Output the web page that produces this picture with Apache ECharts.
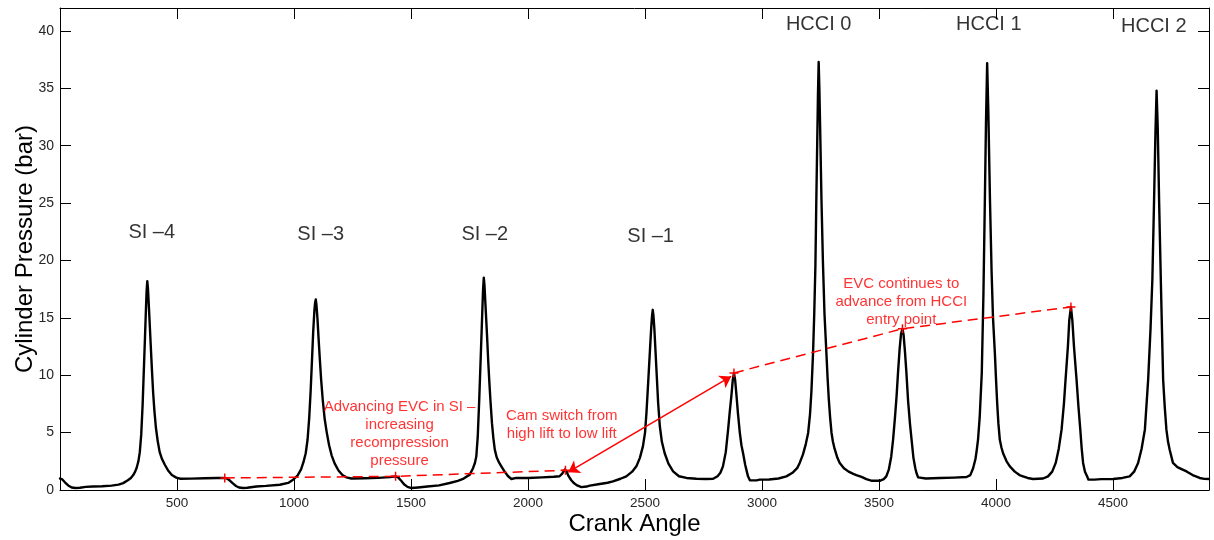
<!DOCTYPE html>
<html>
<head>
<meta charset="utf-8">
<title>Cylinder Pressure vs Crank Angle</title>
<script src="https://cdn.jsdelivr.net/npm/echarts@6/dist/echarts.min.js"></script>
<style>
  html, body { margin: 0; padding: 0; background: #fff; }
  #chart { width: 1214px; height: 540px; }
</style>
</head>
<body>
<div id="chart"></div>
<script>
// Cylinder pressure trace, [crank angle, pressure in bar], one array per engine cycle
const cycleSI4 = [
  [0,1.0],[10,0.92],[22,0.65],[35,0.4],[50,0.22],[65,0.17],[85,0.2],[110,0.27],[140,0.31],[180,0.33],
  [220,0.38],[250,0.47],[270,0.6],[290,0.85],[303,1.05],[313,1.3],[321,1.6],[327,1.9],[335,2.5],[341,3.3],[347,4.8],[353,7.4],
  [358,10.3],[363,13.2],[367,15.6],[370,17.3],[373,18.2],[376,17.5],[380,15.9],[384,14.2],[388,12.5],[393,10.4],
  [398,8.5],[403,7.0],[410,5.4],[418,4.2],[426,3.3],[436,2.7],[448,2.2],[462,1.7],[478,1.3],[497,1.08],
  [515,0.98],[560,0.99],[620,1.02],[670,1.04],[704,1.05]
];
const cycleSI3 = [
  [716,0.98],[728,0.78],[740,0.55],[752,0.35],[765,0.22],[782,0.17],[800,0.2],[839,0.31],[880,0.36],[939,0.46],
  [975,0.62],[996,0.9],[1015,1.25],[1030,1.8],[1040,2.4],[1050,3.2],[1058,4.4],[1065,6.3],[1071,8.6],[1077,11.4],
  [1082,13.8],[1087,15.6],[1090,16.3],[1093,16.6],[1096,16.1],[1100,15.0],[1105,13.2],[1110,11.5],[1116,9.6],[1123,7.8],
  [1131,6.2],[1140,5.0],[1150,3.9],[1161,3.0],[1174,2.3],[1190,1.7],[1207,1.3],[1224,1.1],[1245,1.0],[1300,1.02],
  [1360,1.06],[1410,1.12],[1434,1.19]
];
const cycleSI2 = [
  [1445,1.1],[1458,0.8],[1470,0.5],[1485,0.27],[1502,0.17],[1530,0.22],[1570,0.3],[1620,0.4],[1665,0.61],[1700,0.8],
  [1725,1.0],[1751,1.34],[1765,1.9],[1773,2.35],[1779,2.93],[1785,4.6],[1791,7.6],[1796,10.5],[1801,13.4],[1805,15.8],[1808,17.5],
  [1811,18.5],[1814,17.8],[1818,16.2],[1822,14.6],[1825,13.4],[1830,11.2],[1835,9.3],[1840,7.6],[1846,5.8],[1852,4.5],
  [1858,3.52],[1866,2.85],[1876,2.4],[1886,2.06],[1900,1.6],[1915,1.2],[1929,0.96],[1950,1.05],[2000,1.05],[2060,1.1],
  [2110,1.15],[2135,1.2],[2147,1.45],[2157,1.78],[2160,1.72]
];
const cycleSI1 = [
  [2165,1.6],[2172,1.25],[2185,0.85],[2197,0.58],[2210,0.4],[2228,0.25],[2250,0.3],[2264,0.38],[2300,0.5],[2340,0.63],
  [2363,0.75],[2395,0.98],[2420,1.19],[2445,1.6],[2463,2.06],[2478,2.8],[2491,3.8],[2500,5.0],[2506,6.7],[2513,9.2],
  [2520,11.8],[2526,14.0],[2530,15.2],[2533,15.7],[2536,15.2],[2540,14.0],[2545,12.0],[2550,10.0],[2556,7.6],[2563,5.6],
  [2572,4.2],[2584,3.2],[2600,2.3],[2620,1.62],[2645,1.2],[2677,1.05],[2720,0.98],[2760,0.96],[2791,0.98],[2810,1.2],
  [2822,1.5],[2833,2.06],[2845,3.3],[2855,5.26],[2862,6.8],[2869,8.2],[2875,9.6],[2880,10.2]
];
const cycleHCCI0 = [
  [2885,9.6],[2891,8.2],[2897,6.7],[2905,5.0],[2912,3.9],[2919,3.2],[2928,2.2],[2935,1.6],[2940,1.19],[2948,0.85],
  [2955,0.75],[2977,0.84],[2990,0.9],[3030,0.92],[3070,1.0],[3104,1.19],[3130,1.5],[3150,1.9],[3161,2.36],[3175,3.1],
  [3187,4.0],[3197,4.97],[3205,6.6],[3211,8.6],[3218,11.95],[3223,15.3],[3228,19.5],[3232,25.3],[3236,30.5],[3239,34.5],
  [3242,37.3],[3245,35.0],[3249,30.8],[3254,25.3],[3260,20.0],[3267,15.3],[3275,11.95],[3280,9.8],[3285,8.0],[3291,6.3],[3297,4.97],[3303,4.2],[3310,3.6],
  [3322,2.8],[3332,2.36],[3350,1.9],[3370,1.6],[3390,1.4],[3403,1.3],[3425,1.15],[3446,0.95],[3470,0.8],[3503,0.8],
  [3520,0.95],[3531,1.19],[3542,1.8],[3552,2.9],[3560,4.39],[3568,6.3],[3575,8.2],[3581,10.2],[3588,12.3],[3594,13.6],
  [3600,14.05]
];
const cycleHCCI1 = [
  [3605,13.5],[3611,12.0],[3617,10.2],[3624,7.8],[3632,5.8],[3639,4.39],[3647,2.8],[3655,1.9],[3660,1.48],[3667,1.1],
  [3674,0.96],[3700,1.0],[3760,1.05],[3820,1.08],[3874,1.13],[3890,1.3],[3902,1.9],[3912,2.7],[3917,3.4],[3923,4.39],
  [3930,6.3],[3939,10.2],[3946,17.0],[3952,25.0],[3957,32.0],[3962,37.2],[3967,33.0],[3974,25.3],[3981,19.0],[3987,15.0],
  [3995,11.9],[4000,9.6],[4005,7.5],[4010,5.8],[4016,4.39],[4023,3.7],[4030,3.2],[4045,2.5],[4059,2.06],[4080,1.6],[4100,1.3],[4115,1.19],[4135,1.05],
  [4158,0.96],[4201,1.0],[4222,1.19],[4240,1.6],[4255,2.36],[4268,3.6],[4280,5.26],[4290,7.5],[4297,9.62],[4307,12.5],
  [4313,14.8],[4320,15.95]
];
const cycleHCCI2 = [
  [4326,14.8],[4333,12.5],[4344,9.62],[4352,7.3],[4360,5.26],[4366,3.6],[4372,2.36],[4380,1.6],[4389,1.19],[4395,0.9],
  [4401,0.81],[4420,0.9],[4450,0.95],[4500,0.96],[4540,1.05],[4571,1.19],[4590,1.6],[4607,2.36],[4622,3.6],[4636,5.26],
  [4650,9.62],[4660,14.0],[4668,18.37],[4675,25.0],[4681,31.0],[4686,34.8],[4691,31.5],[4697,25.0],[4704,18.37],[4709,14.0],
  [4714,9.62],[4721,7.2],[4728,5.26],[4735,4.2],[4742,3.5],[4756,2.36],[4775,2.0],[4795,1.8],[4814,1.62],[4840,1.3],[4870,1.05],
  [4890,0.97],[4910,0.96]
];

// Exhaust valve closing points (red "+") and the trend lines through them
const evcSI = [[704,1.05],[1434,1.19],[2160,1.72]];
const evcHCCI = [[2880,10.2],[3600,14.05],[4320,15.95]];
// Double-headed arrow for the cam switch
const camSwitchArrow = [[2172,1.55],[2868,9.9]];

// Cycle names above each combustion peak
const cycleLabels = [
  { name: 'SI \u20134', value: [392, 22.4] },
  { name: 'SI \u20133', value: [1114, 22.3] },
  { name: 'SI \u20132', value: [1815, 22.3] },
  { name: 'SI \u20131', value: [2524, 22.1] },
  { name: 'HCCI 0', value: [3242, 40.6] },
  { name: 'HCCI 1', value: [3969, 40.6] },
  { name: 'HCCI 2', value: [4674, 40.4] }
];
// Red notes
const notes = [
  { name: 'Advancing EVC in SI \u2013\nincreasing\nrecompression\npressure', value: [1451, 4.85] },
  { name: 'Cam switch from\nhigh lift to low lift', value: [2144, 5.7] },
  { name: 'EVC continues to\nadvance from HCCI\nentry point', value: [3595, 16.4] }
];

// Axis ranges and tick labels
const xRange = [0, 4910];
const yRange = [0, 42];
const xTickLabels = [500, 1000, 1500, 2000, 2500, 3000, 3500, 4000, 4500];
const yTickLabels = [0, 5, 10, 15, 20, 25, 30, 35, 40];

const trace = [].concat(cycleSI4, cycleSI3, cycleSI2, cycleSI1, cycleHCCI0, cycleHCCI1, cycleHCCI2);

const FONT = '"Liberation Sans", Arial, Helvetica, sans-serif';
const plusPath = 'path://M4.2,0H5.8V4.2H10V5.8H5.8V10H4.2V5.8H0V4.2H4.2Z';

const axisLineStyle = { show: true, onZero: false, lineStyle: { color: '#000', width: 1 } };
const tickStyle = { show: true, inside: true, length: 11, lineStyle: { color: '#000', width: 1 } };

const chart = echarts.init(document.getElementById('chart'), null, { renderer: 'canvas' });

chart.setOption({
  animation: false,
  backgroundColor: '#fff',
  grid: { left: 60, right: 5, top: 8, bottom: 50, containLabel: false, outerBoundsMode: 'none' },
  xAxis: [
    {
      type: 'value', position: 'bottom', min: xRange[0], max: xRange[1], interval: 500,
      axisLine: axisLineStyle, axisTick: tickStyle, splitLine: { show: false },
      axisLabel: {
        margin: 6, fontSize: 13.5, color: '#262626', fontFamily: FONT,
        formatter: v => (xTickLabels.includes(v) ? String(v) : '')
      },
      name: 'Crank Angle', nameLocation: 'middle', nameGap: 22, nameMoveOverlap: false,
      nameTextStyle: { fontSize: 24, color: '#000', fontFamily: FONT }
    },
    {
      type: 'value', position: 'top', min: xRange[0], max: xRange[1], interval: 500,
      axisLine: axisLineStyle, axisTick: tickStyle, splitLine: { show: false },
      axisLabel: { show: false }
    }
  ],
  yAxis: [
    {
      type: 'value', position: 'left', min: yRange[0], max: yRange[1], interval: 5,
      axisLine: axisLineStyle, axisTick: tickStyle, splitLine: { show: false },
      axisLabel: {
        margin: 6, fontSize: 14, color: '#262626', fontFamily: FONT,
        formatter: v => (yTickLabels.includes(v) ? String(v) : '')
      },
      name: 'Cylinder Pressure (bar)', nameLocation: 'middle', nameGap: 23, nameRotate: 90,
      nameMoveOverlap: false,
      nameTextStyle: { fontSize: 24, color: '#000', fontFamily: FONT }
    },
    {
      type: 'value', position: 'right', min: yRange[0], max: yRange[1], interval: 5,
      axisLine: axisLineStyle, axisTick: tickStyle, splitLine: { show: false },
      axisLabel: { show: false }
    }
  ],
  series: [
    {
      name: 'Cylinder pressure', type: 'line', data: trace,
      xAxisIndex: 0, yAxisIndex: 0,
      showSymbol: false, smooth: false,
      lineStyle: { color: '#000', width: 2.4, join: 'round', cap: 'round' }, z: 3
    },
    {
      name: 'EVC trend SI', type: 'line', data: evcSI,
      xAxisIndex: 0, yAxisIndex: 0,
      symbol: plusPath, symbolSize: 9, showSymbol: true,
      itemStyle: { color: '#ff0000' },
      lineStyle: { color: '#ff0000', width: 1.5, type: [10, 6] }, z: 4
    },
    {
      name: 'EVC trend HCCI', type: 'line', data: evcHCCI,
      xAxisIndex: 0, yAxisIndex: 0,
      symbol: plusPath, symbolSize: 9, showSymbol: true,
      itemStyle: { color: '#ff0000' },
      lineStyle: { color: '#ff0000', width: 1.5, type: [10, 6] }, z: 4
    },
    {
      name: 'Cam switch', type: 'lines', coordinateSystem: 'cartesian2d',
      xAxisIndex: 0, yAxisIndex: 0,
      symbol: ['arrow', 'arrow'], symbolSize: 11,
      lineStyle: { color: '#ff0000', width: 1.5, opacity: 1, curveness: 0 },
      data: [{ coords: camSwitchArrow }], z: 5, silent: true
    },
    {
      name: 'Cycle labels', type: 'scatter', data: cycleLabels,
      xAxisIndex: 0, yAxisIndex: 0,
      symbolSize: 1, itemStyle: { color: 'rgba(0,0,0,0)' }, silent: true,
      label: {
        show: true, position: 'inside', formatter: p => p.name,
        fontSize: 20, color: '#000', fontFamily: FONT
      }, z: 6
    },
    {
      name: 'Notes', type: 'scatter', data: notes,
      xAxisIndex: 0, yAxisIndex: 0,
      symbolSize: 1, itemStyle: { color: 'rgba(0,0,0,0)' }, silent: true,
      label: {
        show: true, position: 'inside', formatter: p => p.name,
        fontSize: 15, lineHeight: 18, align: 'center', color: '#ff0000', fontFamily: FONT
      }, z: 6
    }
  ]
});
</script>
</body>
</html>
